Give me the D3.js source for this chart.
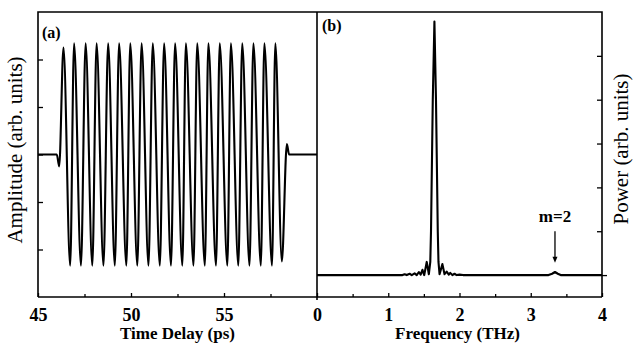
<!DOCTYPE html>
<html lang="en">
  <head>
    <meta charset="utf-8">
    <title>THz waveform and spectrum</title>
    <script src="https://cdn.jsdelivr.net/npm/d3@7"></script>
    <style>
      body { margin: 0; background: #fff; }
      svg text { font-family: "Liberation Serif", "Times New Roman", serif; fill: #000; }
      .trace { fill: none; stroke: #000; stroke-width: 2.1; stroke-linejoin: round; }
      .frame { stroke: #000; stroke-width: 1.6; fill: none; }
      .axis line { stroke: #000; stroke-width: 1.3; }
      .axis text { font-size: 18px; font-weight: bold; }
      .title { font-size: 17px; font-weight: bold; }
      .ylab { font-size: 21px; }
    </style>
  </head>
  <body>
    <script>
      // (a) waveform: extrema (ps, arb. units)
      var delayPs = [45, 46.01, 46.14, 46.37,
        46.73, 46.94, 47.31, 47.56, 47.92, 48.15, 48.52, 48.77, 49.13, 49.36,
        49.75, 49.96, 50.34, 50.57, 50.94, 51.17, 51.55, 51.78, 52.15, 52.37,
        52.76, 52.95, 53.36, 53.56, 53.97, 54.16, 54.57, 54.77, 55.18, 55.37,
        55.77, 55.98, 56.37, 56.58, 56.98, 57.17, 57.58, 57.76,
        58.11, 58.38, 58.5, 60];
      var amplitude = [0, 0, -0.25, 2.25,
        -2.34, 2.34, -2.34, 2.34, -2.34, 2.34, -2.34, 2.34, -2.34, 2.34,
        -2.34, 2.34, -2.34, 2.34, -2.34, 2.34, -2.34, 2.34, -2.34, 2.34,
        -2.34, 2.34, -2.34, 2.34, -2.34, 2.34, -2.34, 2.34, -2.34, 2.34,
        -2.34, 2.34, -2.34, 2.34, -2.34, 2.34, -2.34, 2.34,
        -2.25, 0.22, 0, 0];

      // (b) power spectrum (THz, arb. units)
      var freqTHz = [0, 1.2, 1.23, 1.26, 1.3, 1.33, 1.37, 1.4, 1.43, 1.455, 1.48, 1.505,
        1.54, 1.57, 1.59, 1.6, 1.625, 1.648, 1.67, 1.695, 1.705, 1.72,
        1.76, 1.79, 1.82, 1.85, 1.87, 1.9, 1.93, 1.96, 2.0, 2.05,
        3.25, 3.3, 3.34, 3.38, 3.42, 4];
      var power = [0, 0, 0.02, 0, 0.03, 0, 0.04, 0, 0.07, 0.01, 0.12, 0,
        0.3, 0.02, 0.3, 1.0, 4.0, 5.78, 4.0, 1.0, 0.3, 0.02,
        0.25, 0.02, 0.08, 0.01, 0.05, 0, 0.03, 0, 0.01, 0,
        0, 0.03, 0.07, 0.03, 0, 0];

      var delayTicks = [45, 50, 55];
      var delayMinor = [47.5, 52.5, 57.5];
      var freqTicks = [0, 1, 2, 3, 4];
      var freqMinor = [0.5, 1.5, 2.5, 3.5];
      var ampTicks = [-2, -1, 0, 1, 2];
      var powerTicks = [1, 2, 3, 4, 5];
      var harmonic = { label: "m=2", freq: 3.34 };

      var w = 634, h = 345;
      var plotTop = 12, plotBottom = 297;
      var aLeft = 38, mid = 317, bRight = 602;

      var xA = d3.scaleLinear().domain([45, 60]).range([aLeft, mid]);
      var yA = d3.scaleLinear().domain([-3, 3]).range([plotBottom, plotTop]);
      var xB = d3.scaleLinear().domain([0, 4]).range([mid, bRight]);
      var yB = d3.scaleLinear().domain([-0.5, 6]).range([plotBottom, plotTop]);

      var svg = d3.select("body")
                  .append("svg")
                  .attr("width", w)
                  .attr("height", h);

      // frames
      svg.append("path").attr("class", "frame")
         .attr("d", "M" + aLeft + "," + plotBottom + "V" + plotTop + "H" + bRight + "V" + plotBottom);
      svg.append("line").attr("class", "frame")
         .attr("x1", aLeft).attr("x2", mid).attr("y1", plotBottom).attr("y2", plotBottom);
      svg.append("line").attr("class", "frame")
         .attr("x1", mid).attr("x2", bRight).attr("y1", plotBottom).attr("y2", plotBottom)
         .attr("stroke-width", 1.1).attr("stroke", "#333");
      svg.append("line").attr("class", "frame")
         .attr("x1", mid).attr("x2", mid).attr("y1", plotTop).attr("y2", plotBottom + 3);

      function axisG(axis, tx, ty) {
        var g = svg.append("g")
                   .attr("class", "axis")
                   .attr("transform", "translate(" + tx + "," + ty + ")")
                   .call(axis);
        g.select(".domain").remove();
        return g;
      }

      axisG(d3.axisBottom(xA).tickValues(delayTicks).tickSize(-4).tickPadding(11).tickFormat(d3.format("d")), 0, plotBottom);
      axisG(d3.axisBottom(xA).tickValues(delayMinor).tickSize(-3).tickFormat(""), 0, plotBottom);
      axisG(d3.axisBottom(xB).tickValues(freqTicks).tickSize(-4).tickPadding(11).tickFormat(d3.format("d")), 0, plotBottom);
      axisG(d3.axisBottom(xB).tickValues(freqMinor).tickSize(-3).tickFormat(""), 0, plotBottom);
      axisG(d3.axisLeft(yA).tickValues(ampTicks).tickSize(-5).tickFormat(""), aLeft, 0);
      axisG(d3.axisRight(yB).tickValues(powerTicks).tickSize(-5).tickFormat(""), bRight, 0);
      axisG(d3.axisRight(yB).tickValues([0]).tickSize(5).tickFormat(""), bRight, 0);

      // traces
      var wave = d3.range(delayPs.length).map(function (i) { return [delayPs[i], amplitude[i]]; });
      var spec = d3.range(freqTHz.length).map(function (i) { return [freqTHz[i], power[i]]; });

      var waveLine = d3.line()
                       .curve(d3.curveMonotoneX)
                       .x(function (d) { return xA(d[0]); })
                       .y(function (d) { return yA(d[1]); });
      var specLine = d3.line()
                       .x(function (d) { return xB(d[0]); })
                       .y(function (d) { return yB(d[1]); });

      svg.append("path").datum(wave).attr("class", "trace").attr("d", waveLine);
      svg.append("path").datum(spec).attr("class", "trace").attr("d", specLine);

      // panel tags
      svg.append("text").attr("x", 42).attr("y", 38)
         .attr("font-size", 16).attr("font-weight", "bold").text("(a)");
      svg.append("text").attr("x", 322).attr("y", 31)
         .attr("font-size", 16).attr("font-weight", "bold").text("(b)");

      // m=2 annotation
      var hx = xB(harmonic.freq);
      svg.append("text").attr("x", hx).attr("y", yB(1.2))
         .attr("text-anchor", "middle").attr("font-size", 17).attr("font-weight", "bold")
         .text(harmonic.label);
      svg.append("line").attr("x1", hx).attr("x2", hx)
         .attr("y1", yB(1.0)).attr("y2", yB(0.4))
         .attr("stroke", "#000").attr("stroke-width", 1.3);
      svg.append("path")
         .attr("d", "M" + (hx - 2.5) + "," + yB(0.42) + "L" + (hx + 2.5) + "," + yB(0.42) + "L" + hx + "," + yB(0.28) + "Z")
         .attr("fill", "#000");

      // axis titles
      svg.append("text").attr("class", "title")
         .attr("x", (aLeft + mid) / 2).attr("y", 339)
         .attr("text-anchor", "middle").text("Time Delay (ps)");
      svg.append("text").attr("class", "title")
         .attr("x", (mid + bRight) / 2 - 2).attr("y", 339)
         .attr("text-anchor", "middle").text("Frequency (THz)");
      svg.append("text").attr("class", "ylab")
         .attr("transform", "translate(22,150) rotate(-90)")
         .attr("text-anchor", "middle").text("Amplitude (arb. units)");
      svg.append("text").attr("class", "ylab")
         .attr("font-size", 21)
         .attr("transform", "translate(628,149) rotate(-90)")
         .attr("text-anchor", "middle").text("Power (arb. units)");
    </script>
  </body>
</html>
